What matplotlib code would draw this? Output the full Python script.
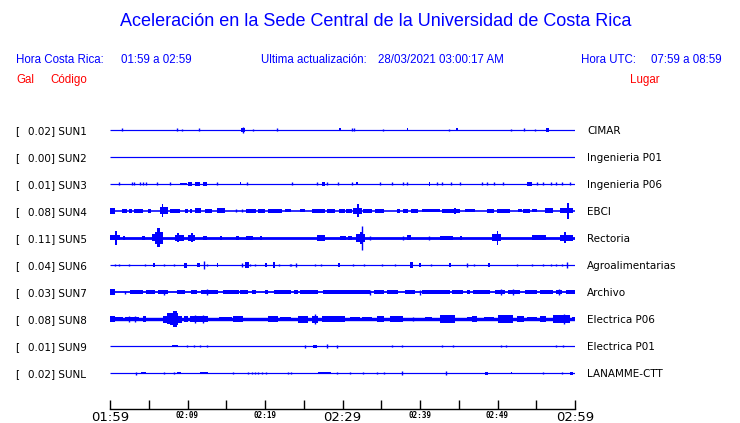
"""
Acceleration traces for the UCR main campus stations (last hour).
Each trace is a flat baseline plus the bursts read off the record.
"""
import matplotlib
matplotlib.use('Agg')
import matplotlib.pyplot as plt
from matplotlib.transforms import blended_transform_factory

# station info, top to bottom
stations = ['SUN1', 'SUN2', 'SUN3', 'SUN4', 'SUN5', 'SUN6', 'SUN7', 'SUN8', 'SUN9', 'SUNL']
peaks = ['0.02', '0.00', '0.01', '0.08', '0.11', '0.04', '0.03', '0.08', '0.01', '0.02']
places = ['CIMAR', 'Ingenieria P01', 'Ingenieria P06', 'EBCI', 'Rectoria',
          'Agroalimentarias', 'Archivo', 'Electrica P06', 'Electrica P01', 'LANAMME-CTT']
# background noise level of each trace (same units as the bursts)
noise = [0.6, 0.6, 0.6, 0.8, 1.4, 0.6, 0.9, 1.7, 0.6, 0.6]

# bursts: (start minute, end minute, amplitude); minutes after 01:59
sun1 = [(1.6, 1.6, 1.5), (8.6, 8.6, 1.5), (9.3, 9.3, 1), (11.5, 11.5, 1.5), (16.9, 17.4, 2),
        (17.2, 17.2, 3), (18.5, 18.5, 1), (21.6, 21.6, 1.5), (29.5, 29.8, 1.5), (31.2, 31.2, 1.5),
        (31.5, 31.5, 1.5), (35.2, 35.2, 1), (38.3, 38.5, 1.5), (43.7, 43.7, 1), (44.6, 44.9, 1.5),
        (51.7, 51.7, 1), (53.4, 53.4, 1.5), (54.9, 54.9, 1), (56.3, 56.6, 2)]
sun2 = []
sun3 = [(1.2, 1.2, 1.5), (2.8, 2.8, 1.5), (3.1, 3.1, 1.5), (3.9, 3.9, 1.5), (4.3, 4.3, 1.5),
        (4.7, 4.7, 1.5), (6.0, 6.0, 1.5), (7.8, 7.8, 1.5), (9.0, 9.9, 1.3), (10.1, 10.6, 1.7),
        (11.0, 11.6, 1.7), (12.0, 12.5, 1.7), (13.8, 13.8, 1.5), (16.8, 16.9, 1.5), (17.7, 17.7, 1.5),
        (23.5, 23.5, 1.5), (26.7, 26.7, 1.5), (27.4, 27.7, 1.7), (28.0, 28.0, 1.5), (29.4, 29.4, 1.5),
        (31.2, 31.2, 1.5), (31.8, 32.0, 1.5), (34.8, 34.8, 1.5), (36.4, 36.4, 1.5), (37.8, 37.8, 1.5),
        (38.3, 38.3, 1.5), (41.1, 41.3, 1.7), (42.2, 42.2, 1.5), (42.8, 42.8, 1.5), (44.0, 44.0, 1.5),
        (45.1, 45.1, 1.5), (48.0, 48.0, 1.5), (48.6, 48.6, 1.5), (49.5, 49.5, 1.5), (50.7, 50.7, 1.5),
        (53.8, 54.4, 1.7), (55.1, 55.1, 1.5), (55.9, 55.9, 1.5), (56.9, 56.9, 1.5), (57.6, 57.6, 1.5),
        (58.3, 58.3, 1.5), (59.3, 59.3, 1.5)]
sun4 = [(0.0, 0.7, 2.7), (1.5, 2.2, 1.8), (2.5, 2.8, 1.8), (3.1, 4.3, 2), (4.9, 5.3, 1.8),
        (6.5, 7.5, 3.5), (6.7, 6.8, 6.5), (7.7, 9.0, 2.3), (9.7, 10.0, 1.8), (10.3, 10.6, 1.8),
        (11.0, 11.8, 2.5), (11.3, 11.4, 3), (12.3, 13.1, 1.8), (13.8, 14.8, 2.5), (16.3, 16.3, 1.5),
        (17.0, 17.0, 1.5), (17.6, 18.9, 2), (19.1, 20.0, 1.8), (20.4, 22.2, 1.8), (22.6, 23.4, 1.5),
        (24.5, 25.2, 1.5), (26.0, 27.7, 2), (28.0, 29.0, 1.8), (29.5, 30.3, 1.8), (30.5, 31.2, 2),
        (31.4, 32.5, 3), (31.9, 32.1, 6.5), (32.7, 33.8, 1.8), (34.2, 35.3, 2), (37.0, 37.4, 1.8),
        (37.8, 38.5, 2.3), (38.9, 39.8, 2), (40.2, 42.6, 1.5), (42.8, 45.2, 2.3), (44.4, 44.6, 3),
        (45.8, 47.1, 1.5), (48.6, 49.5, 1.8), (49.9, 51.6, 2.3), (50.4, 50.5, 7), (52.7, 53.1, 1.5),
        (53.3, 54.2, 1.8), (54.4, 55.1, 1.5), (56.1, 57.2, 2.5), (58.1, 59.8, 2.5), (59.0, 59.2, 8)]
sun5 = [(0.0, 1.3, 2.5), (0.7, 0.9, 7), (1.7, 1.9, 2.2), (4.1, 4.5, 2.2), (5.4, 6.9, 3.5),
        (5.8, 6.8, 6), (6.1, 6.5, 9.5), (8.4, 9.5, 3), (8.7, 8.9, 4.5), (10.1, 11.0, 3),
        (10.5, 10.7, 4.5), (12.0, 12.5, 2.2), (14.2, 14.4, 2.2), (16.3, 16.6, 2.2), (17.6, 18.5, 2.2),
        (19.4, 19.6, 2.2), (26.7, 27.7, 2.7), (29.7, 30.5, 2.2), (30.7, 31.2, 2.2), (31.8, 32.9, 4),
        (32.3, 32.7, 6), (32.5, 32.5, 12), (33.5, 33.5, 2.2), (37.8, 37.8, 2.2), (38.3, 38.9, 2.5),
        (41.1, 41.1, 2.2), (42.6, 44.3, 2.3), (45.2, 45.4, 2.2), (49.3, 50.5, 3.5), (49.9, 50.1, 7),
        (54.4, 56.3, 2.5), (58.1, 59.8, 3), (58.6, 58.8, 5.5)]
sun6 = [(0.6, 0.6, 1.5), (1.1, 1.1, 1.5), (2.5, 2.5, 1.2), (4.5, 4.5, 1.5), (5.6, 5.8, 2.2),
        (7.0, 7.0, 1.2), (8.2, 8.2, 1.2), (9.6, 10.0, 2.5), (11.2, 11.6, 2), (12.1, 12.1, 4.3),
        (12.5, 12.5, 1.5), (13.8, 14.0, 2), (17.0, 17.0, 2), (17.4, 17.9, 2.7), (18.1, 18.1, 1.5),
        (18.7, 18.7, 1.2), (20.0, 20.2, 2), (21.0, 21.3, 3.3), (21.8, 21.8, 1.2), (23.2, 23.2, 1.2),
        (23.4, 23.4, 1.2), (24.0, 24.0, 2), (26.5, 26.5, 1.2), (27.2, 27.2, 1.2), (29.4, 29.7, 1.7),
        (31.4, 31.4, 1.5), (32.8, 32.8, 1.2), (35.1, 35.1, 1.5), (36.8, 36.8, 1.2), (38.7, 39.1, 3.3),
        (39.9, 40.1, 1.7), (41.4, 41.4, 1.5), (43.8, 44.0, 2), (46.0, 46.0, 2), (47.0, 47.0, 1.2),
        (48.8, 49.0, 1.7), (52.5, 52.5, 1.5), (54.4, 54.4, 1.5), (55.9, 55.9, 1.5), (56.9, 56.9, 1.2),
        (57.5, 57.5, 1.2), (58.3, 58.3, 1.2), (59.0, 59.0, 2.7)]
sun7 = [(0.0, 0.6, 2.7), (1.9, 1.9, 1.5), (2.6, 4.3, 1.8), (4.7, 5.8, 1.8), (6.2, 7.5, 2),
        (7.0, 7.0, 2.5), (8.6, 9.7, 2.2), (10.5, 11.2, 2.2), (11.8, 14.0, 1.9), (12.5, 12.5, 3),
        (14.6, 16.6, 1.8), (16.8, 17.8, 1.9), (18.3, 18.9, 1.8), (20.0, 20.4, 2.2), (21.1, 23.4, 1.8),
        (23.7, 24.3, 2.2), (24.5, 26.9, 1.8), (27.5, 30.3, 1.8), (29.7, 31.4, 1.8), (31.4, 33.5, 1.8),
        (33.6, 33.6, 2.5), (34.0, 35.3, 1.8), (35.7, 37.2, 1.8), (38.1, 39.4, 1.8), (40.0, 40.0, 2.5),
        (40.2, 43.9, 1.8), (44.1, 45.6, 1.8), (46.0, 46.5, 2.2), (46.9, 49.0, 1.8), (49.7, 51.0, 2.3),
        (50.4, 50.4, 3), (51.4, 52.9, 2.2), (52.0, 52.0, 3), (53.5, 55.1, 1.8), (55.5, 57.2, 1.9),
        (57.6, 58.3, 2.2), (57.9, 57.9, 3.2), (58.9, 60.0, 1.8)]
sun8 = [(0.0, 0.6, 2.7), (0.6, 1.7, 2.2), (1.9, 3.7, 2.3), (2.4, 2.4, 3), (3.2, 3.2, 3),
        (4.3, 4.7, 3), (6.9, 9.3, 3.5), (7.3, 7.7, 5.5), (7.7, 8.8, 6), (8.1, 8.6, 8.3),
        (9.5, 10.1, 3.3), (10.3, 12.7, 3), (11.0, 11.0, 4.3), (12.0, 12.0, 4.3), (14.0, 15.7, 2.2),
        (15.9, 17.2, 2.7), (20.4, 21.7, 3.3), (21.9, 23.4, 2.2), (24.3, 25.6, 3.5), (26.0, 26.9, 3.5),
        (26.5, 26.5, 4.7), (27.3, 30.3, 3), (31.0, 32.3, 2), (32.5, 33.8, 2.2), (34.4, 35.3, 3.3),
        (36.1, 37.8, 3.3), (39.1, 39.1, 2), (40.6, 41.5, 2), (42.6, 44.5, 3.7), (46.0, 46.7, 2.2),
        (46.7, 47.3, 3.3), (48.2, 49.5, 2.2), (50.1, 52.0, 3.7), (52.5, 53.4, 2.7), (53.8, 55.1, 2.2),
        (55.5, 56.3, 2.7), (57.2, 59.4, 3.7), (58.6, 58.6, 5), (59.6, 60.0, 2)]
sun9 = [(8.0, 8.8, 1.3), (9.9, 9.9, 1.2), (10.9, 10.9, 1.2), (11.6, 11.6, 1.2), (12.5, 12.5, 1.2),
        (25.2, 25.2, 1.5), (26.2, 26.7, 1.5), (28.0, 28.0, 1.7), (29.3, 29.3, 1.5), (36.4, 36.4, 1.2),
        (37.7, 37.7, 1.2), (42.8, 42.8, 1.2), (44.2, 44.2, 1.2), (50.4, 50.4, 1.2), (51.1, 51.1, 1.2),
        (57.6, 57.6, 1.2), (58.4, 58.4, 1.2)]
sunl = [(3.4, 3.4, 1.5), (4.0, 4.6, 1.3), (7.0, 7.0, 1.2), (8.2, 8.2, 1.2), (8.6, 9.2, 1.3),
        (11.6, 12.7, 1.3), (15.9, 15.9, 1.2), (17.8, 17.8, 1.2), (18.3, 18.3, 1.2), (18.7, 18.7, 1.2),
        (19.1, 19.1, 1.2), (19.6, 19.6, 1.2), (20.1, 20.1, 1.2), (23.0, 23.0, 1.2), (23.4, 23.4, 1.2),
        (26.9, 28.5, 1.3), (29.3, 29.3, 1.2), (31.0, 31.0, 1.2), (32.7, 32.7, 1.2), (34.4, 34.4, 1.2),
        (35.4, 35.4, 1.2), (37.7, 37.7, 2), (43.3, 43.3, 2), (48.4, 48.8, 1.5), (51.7, 51.9, 1.3),
        (55.9, 55.9, 1.2), (58.3, 58.3, 1.2), (59.4, 59.7, 1.5)]
events = [sun1, sun2, sun3, sun4, sun5, sun6, sun7, sun8, sun9, sunl]

tick_minutes = list(range(0, 61, 5))
tick_labels = {0: '01:59', 10: '02:09', 20: '02:19', 30: '02:29', 40: '02:39', 50: '02:49', 60: '02:59'}
big_labels = ['01:59', '02:29', '02:59']

BLUE = '#0000ff'
RED = '#ff0000'
ROW_PX = 27.0  # amplitude units per row spacing

fig = plt.figure(figsize=(7.40, 4.23), dpi=100)
W, H = 740.0, 423.0
# axes: x from 110 to 575 px, y from 115 to 409 px (from top)
ax = fig.add_axes([110 / W, 1 - 409 / H, 465 / W, (409 - 115) / H])
ax.set_xlim(0, 60)
ax.set_ylim(-(409 - 130) / ROW_PX, (130 - 115) / ROW_PX)

for i, ev in enumerate(events):
    y = -i
    ax.hlines(y, 0, 60, color=BLUE, lw=2 * noise[i] * 72 / 100)
    for t0, t1, a in ev:
        h = a / ROW_PX
        if t1 > t0:
            ax.bar(t0, 2 * h, width=t1 - t0, bottom=y - h, align='edge', color=BLUE, lw=0)
        else:
            ax.vlines(t0, y - h, y + h, color=BLUE, lw=1.0)

for s in ['top', 'left', 'right']:
    ax.spines[s].set_visible(False)
ax.spines['bottom'].set_linewidth(1.0)
ax.set_yticks([])
ax.set_xticks(tick_minutes)
ax.set_xticklabels([tick_labels.get(m, '') for m in tick_minutes])
ax.tick_params(axis='x', direction='in', length=6.5, width=1.0, pad=1.5)
for lab in ax.get_xticklabels():
    if lab.get_text() in big_labels:
        lab.set_fontsize(9.5)
        lab.set_family('DejaVu Sans')
    else:
        lab.set_fontsize(5.5)
        lab.set_family('DejaVu Sans Mono')
        lab.set_fontweight('bold')

# row labels
trans = blended_transform_factory(fig.transFigure, ax.transData)
for i in range(len(stations)):
    y = -i
    ax.text(15 / W, y, '[', transform=trans, fontsize=7.5, va='center_baseline', clip_on=False)
    ax.text(27.5 / W, y, '%s] %s' % (peaks[i], stations[i]), transform=trans, fontsize=7.5,
            va='center_baseline', clip_on=False)
    ax.text(587 / W, y, places[i], transform=trans, fontsize=7.5, va='center_baseline', clip_on=False)

# header
hdr = dict(family='Liberation Sans', fontsize=8.3, va='center')
fig.text(376 / W, 1 - 22 / H, 'Aceleración en la Sede Central de la Universidad de Costa Rica',
         family='Liberation Sans', fontsize=13, color=BLUE, ha='center', va='center')
fig.text(16 / W, 1 - 60 / H, 'Hora Costa Rica:', color=BLUE, **hdr)
fig.text(121 / W, 1 - 60 / H, '01:59 a 02:59', color=BLUE, **hdr)
fig.text(261 / W, 1 - 60 / H, 'Ultima actualización:', color=BLUE, **hdr)
fig.text(378 / W, 1 - 60 / H, '28/03/2021 03:00:17 AM', color=BLUE, **hdr)
fig.text(581 / W, 1 - 60 / H, 'Hora UTC:', color=BLUE, **hdr)
fig.text(651 / W, 1 - 60 / H, '07:59 a 08:59', color=BLUE, **hdr)
fig.text(16 / W, 1 - 80 / H, 'Gal', color=RED, **hdr)
fig.text(50 / W, 1 - 80 / H, 'Código', color=RED, **hdr)
fig.text(630 / W, 1 - 80 / H, 'Lugar', color=RED, **hdr)

fig.savefig('out.png', dpi=100)
